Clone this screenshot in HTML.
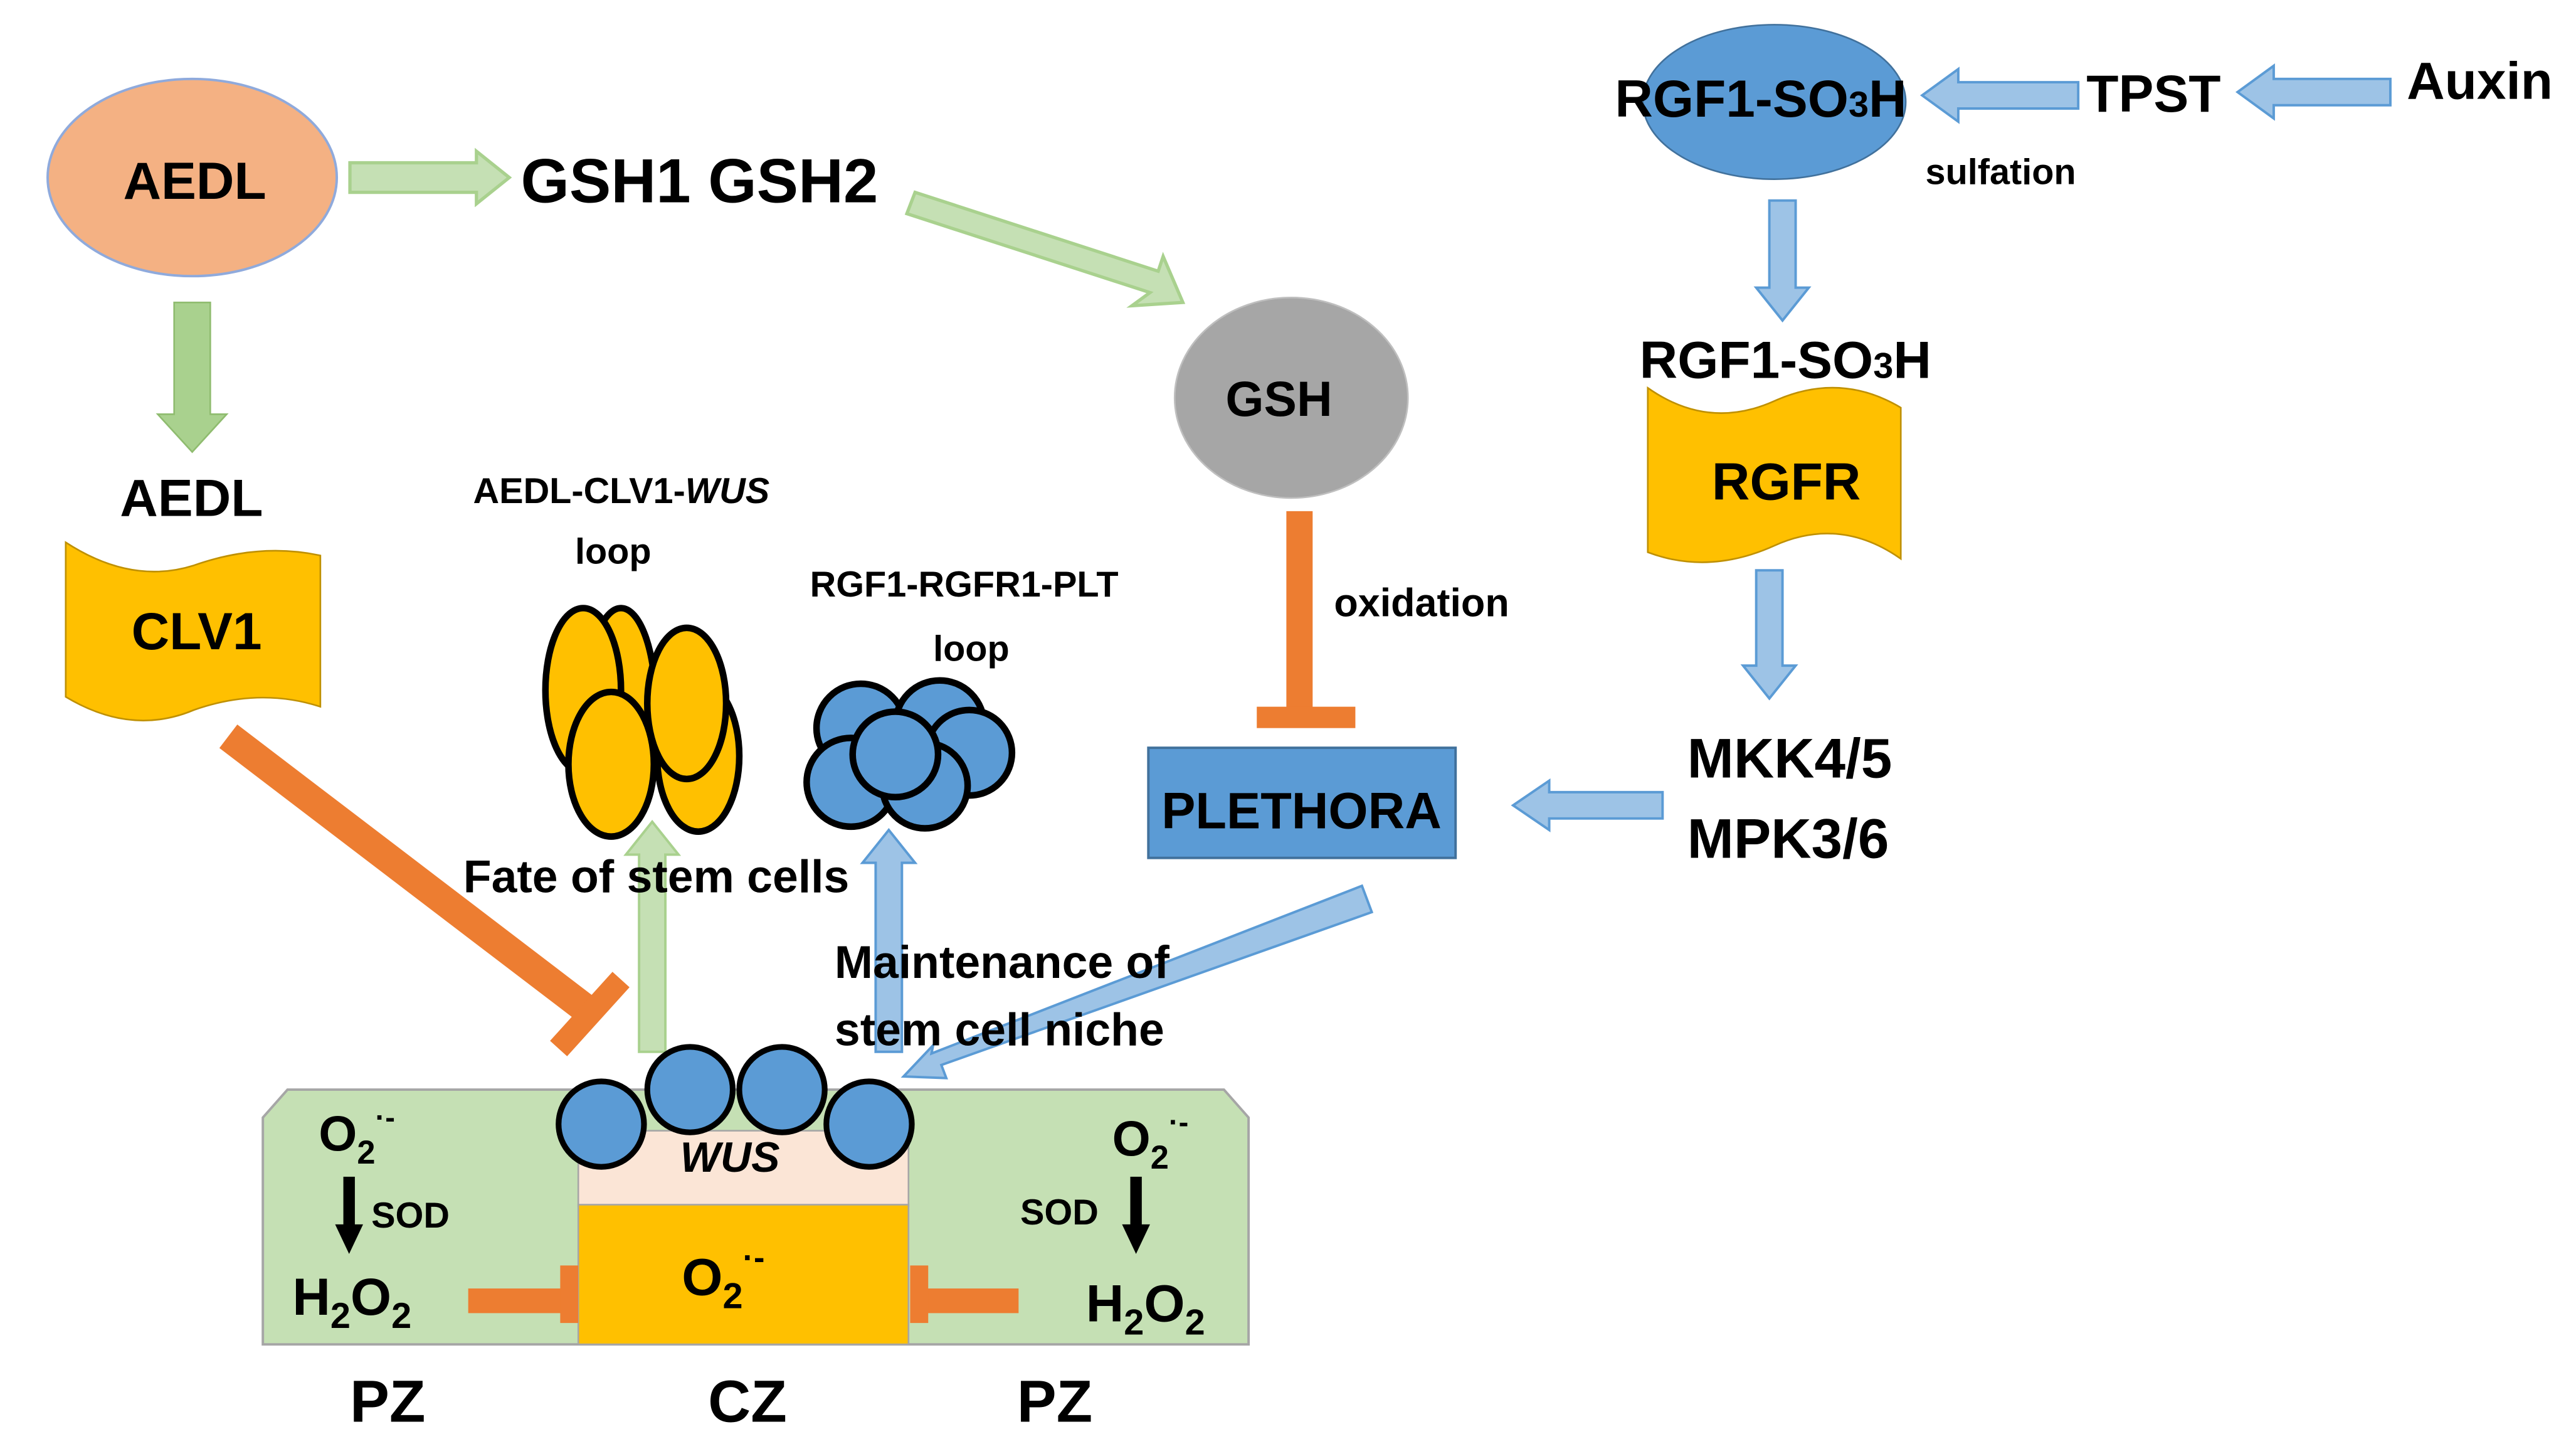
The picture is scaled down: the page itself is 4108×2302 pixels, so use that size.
<!DOCTYPE html>
<html><head><meta charset="utf-8"><style>
html,body{margin:0;padding:0;background:#fff;}
svg{display:block;}
text{font-family:"Liberation Sans",sans-serif;font-weight:bold;fill:#000;}
</style></head><body>
<svg width="4108" height="2302" viewBox="0 0 1568 878.6" xmlns="http://www.w3.org/2000/svg">
<!-- AEDL ellipse -->
<ellipse cx="117" cy="108" rx="88" ry="60" fill="#f4b183" stroke="#8faadc" stroke-width="1.5"/>
<text x="75" y="121" font-size="32">AEDL</text>
<polygon points="213,99 290,99 290,92 310,108 290,124 290,117 213,117" fill="#c5e0b4" stroke="#a9d18e" stroke-width="2"/>
<text x="317" y="123" font-size="38">GSH1 GSH2</text>
<polygon points="557,117 705,165 708,156 720,184 689,186 700,178 552,130" fill="#c5e0b4" stroke="#a9d18e" stroke-width="2"/>
<ellipse cx="786" cy="242" rx="71" ry="61" fill="#a6a6a6" stroke="#bfbfbf" stroke-width="1"/>
<text x="746" y="253" font-size="30">GSH</text>
<rect x="783" y="311" width="16" height="120" fill="#ed7d31"/>
<rect x="765" y="430" width="60" height="13" fill="#ed7d31"/>
<text x="812" y="375" font-size="24">oxidation</text>
<rect x="699" y="455" width="187" height="67" fill="#5b9bd5" stroke="#41719c" stroke-width="1.5"/>
<text x="707" y="504" font-size="31">PLETHORA</text>
<polygon points="1012,482 943,482 943,475 921,490 943,505 943,498 1012,498" fill="#9dc3e6" stroke="#5b9bd5" stroke-width="1.5"/>
<text x="1027" y="473" font-size="34">MKK4/5</text>
<text x="1027" y="522" font-size="34">MPK3/6</text>
<ellipse cx="1080" cy="62" rx="80" ry="47" fill="#5b9bd5" stroke="#41719c" stroke-width="1"/>
<text x="983" y="71" font-size="32">RGF1-SO<tspan font-size="22">3</tspan>H</text>
<polygon points="1265,50 1192,50 1192,42 1170,58 1192,74 1192,66 1265,66" fill="#9dc3e6" stroke="#5b9bd5" stroke-width="1.5"/>
<text x="1270" y="68" font-size="32">TPST</text>
<polygon points="1455,48 1384,48 1384,40 1362,56 1384,72 1384,64 1455,64" fill="#9dc3e6" stroke="#5b9bd5" stroke-width="1.5"/>
<text x="1465" y="60" font-size="32">Auxin</text>
<text x="1172" y="112" font-size="22">sulfation</text>
<polygon points="1077,122 1093,122 1093,175 1101,175 1085,195 1069,175 1077,175" fill="#9dc3e6" stroke="#5b9bd5" stroke-width="1.5"/>
<text x="998" y="230" font-size="32">RGF1-SO<tspan font-size="22">3</tspan>H</text>
<path d="M1003,236 Q1040,262 1080,244 Q1120,226 1157,248 L1157,340 Q1120,314 1080,332 Q1040,350 1003,336 Z" fill="#ffc000" stroke="#bf9000" stroke-width="1"/>
<text x="1042" y="304" font-size="32">RGFR</text>
<polygon points="1069,347 1085,347 1085,405 1093,405 1077,425 1061,405 1069,405" fill="#9dc3e6" stroke="#5b9bd5" stroke-width="1.5"/>
<polygon points="106,184 128,184 128,252 138,252 117,275 96,252 106,252" fill="#a9d18e" stroke="#8fbc6f" stroke-width="1"/>
<text x="73" y="314" font-size="32">AEDL</text>
<path d="M40,330 Q80,356 118,344 Q158,330 195,338 L195,430 Q158,418 118,432 Q80,448 40,424 Z" fill="#ffc000" stroke="#bf9000" stroke-width="1"/>
<text x="80" y="395" font-size="32">CLV1</text>
<line x1="139" y1="448" x2="358" y2="615" stroke="#ed7d31" stroke-width="18"/>
<line x1="340" y1="638" x2="378" y2="596" stroke="#ed7d31" stroke-width="14"/>
<text x="288" y="306" font-size="22">AEDL-CLV1-<tspan font-style="italic">WUS</tspan></text>
<text x="350" y="343" font-size="22">loop</text>
<g fill="#ffc000" stroke="#000" stroke-width="4">
<ellipse cx="378" cy="428" rx="21" ry="58"/>
<ellipse cx="355" cy="420" rx="23" ry="50"/>
<ellipse cx="372" cy="465" rx="26" ry="44"/>
<ellipse cx="425" cy="460" rx="25" ry="46"/>
<ellipse cx="418" cy="428" rx="24" ry="46"/>
</g>
<text x="493" y="363" font-size="22">RGF1-RGFR1-PLT</text>
<text x="568" y="402" font-size="22">loop</text>
<g fill="#5b9bd5" stroke="#000" stroke-width="4">
<circle cx="524" cy="443" r="27"/>
<circle cx="572" cy="441" r="27"/>
<circle cx="590" cy="458" r="26"/>
<circle cx="518" cy="476" r="27"/>
<circle cx="563" cy="478" r="26"/>
<circle cx="545" cy="459" r="26"/>
</g>
<!-- arrows under text -->
<polygon points="389,640 405,640 405,520 413,520 397,500 381,520 389,520" fill="#c5e0b4" stroke="#a9d18e" stroke-width="1.5"/>
<polygon points="533,640 549,640 549,525 557,525 541,505 525,525 533,525" fill="#9dc3e6" stroke="#5b9bd5" stroke-width="1.5"/>
<polygon points="829,539 835,555 573,648 576,656 550,655 568,636 567,641" fill="#9dc3e6" stroke="#5b9bd5" stroke-width="1.5"/>
<text x="282" y="543" font-size="28">Fate of stem cells</text>
<text x="508" y="595" font-size="28">Maintenance of</text>
<text x="508" y="636" font-size="28">stem cell niche</text>
<polygon points="175,663 745,663 760,680 760,818 160,818 160,680" fill="#c5e0b4" stroke="#a6a6a6" stroke-width="1.5"/>
<rect x="352" y="688" width="201" height="46" fill="#fbe5d6" stroke="#a6a6a6" stroke-width="1"/>
<rect x="352" y="733" width="201" height="85" fill="#ffc000" stroke="#a6a6a6" stroke-width="1"/>
<g fill="#5b9bd5" stroke="#000" stroke-width="3.5">
<circle cx="366" cy="684" r="26"/>
<circle cx="420" cy="663" r="26"/>
<circle cx="476" cy="663" r="26"/>
<circle cx="529" cy="684" r="26"/>
</g>
<text x="414" y="713" font-size="26" font-style="italic">WUS</text>
<text x="194" y="700" font-size="30">O<tspan font-size="20" dy="8">2</tspan><tspan font-size="18" dy="-22">·-</tspan></text>
<text x="677" y="703" font-size="30">O<tspan font-size="20" dy="8">2</tspan><tspan font-size="18" dy="-22">·-</tspan></text>
<text x="415" y="788" font-size="32">O<tspan font-size="22" dy="8">2</tspan><tspan font-size="20" dy="-24">·-</tspan></text>
<rect x="209" y="716" width="7" height="30" fill="#000"/>
<polygon points="204,745 221,745 212.5,763" fill="#000"/>
<rect x="688" y="716" width="7" height="30" fill="#000"/>
<polygon points="683,745 700,745 691.5,763" fill="#000"/>
<text x="226" y="747" font-size="22">SOD</text>
<text x="621" y="745" font-size="22">SOD</text>
<text x="178" y="800" font-size="32">H<tspan font-size="22" dy="8">2</tspan><tspan dy="-8">O</tspan><tspan font-size="22" dy="8">2</tspan></text>
<text x="661" y="804" font-size="32">H<tspan font-size="22" dy="8">2</tspan><tspan dy="-8">O</tspan><tspan font-size="22" dy="8">2</tspan></text>
<rect x="285" y="784" width="58" height="15" fill="#ed7d31"/>
<rect x="341" y="770" width="11" height="35" fill="#ed7d31"/>
<rect x="563" y="784" width="57" height="15" fill="#ed7d31"/>
<rect x="554" y="770" width="11" height="35" fill="#ed7d31"/>
<text x="213" y="865" font-size="36">PZ</text>
<text x="431" y="865" font-size="36">CZ</text>
<text x="619" y="865" font-size="36">PZ</text>
</svg>
</body></html>
